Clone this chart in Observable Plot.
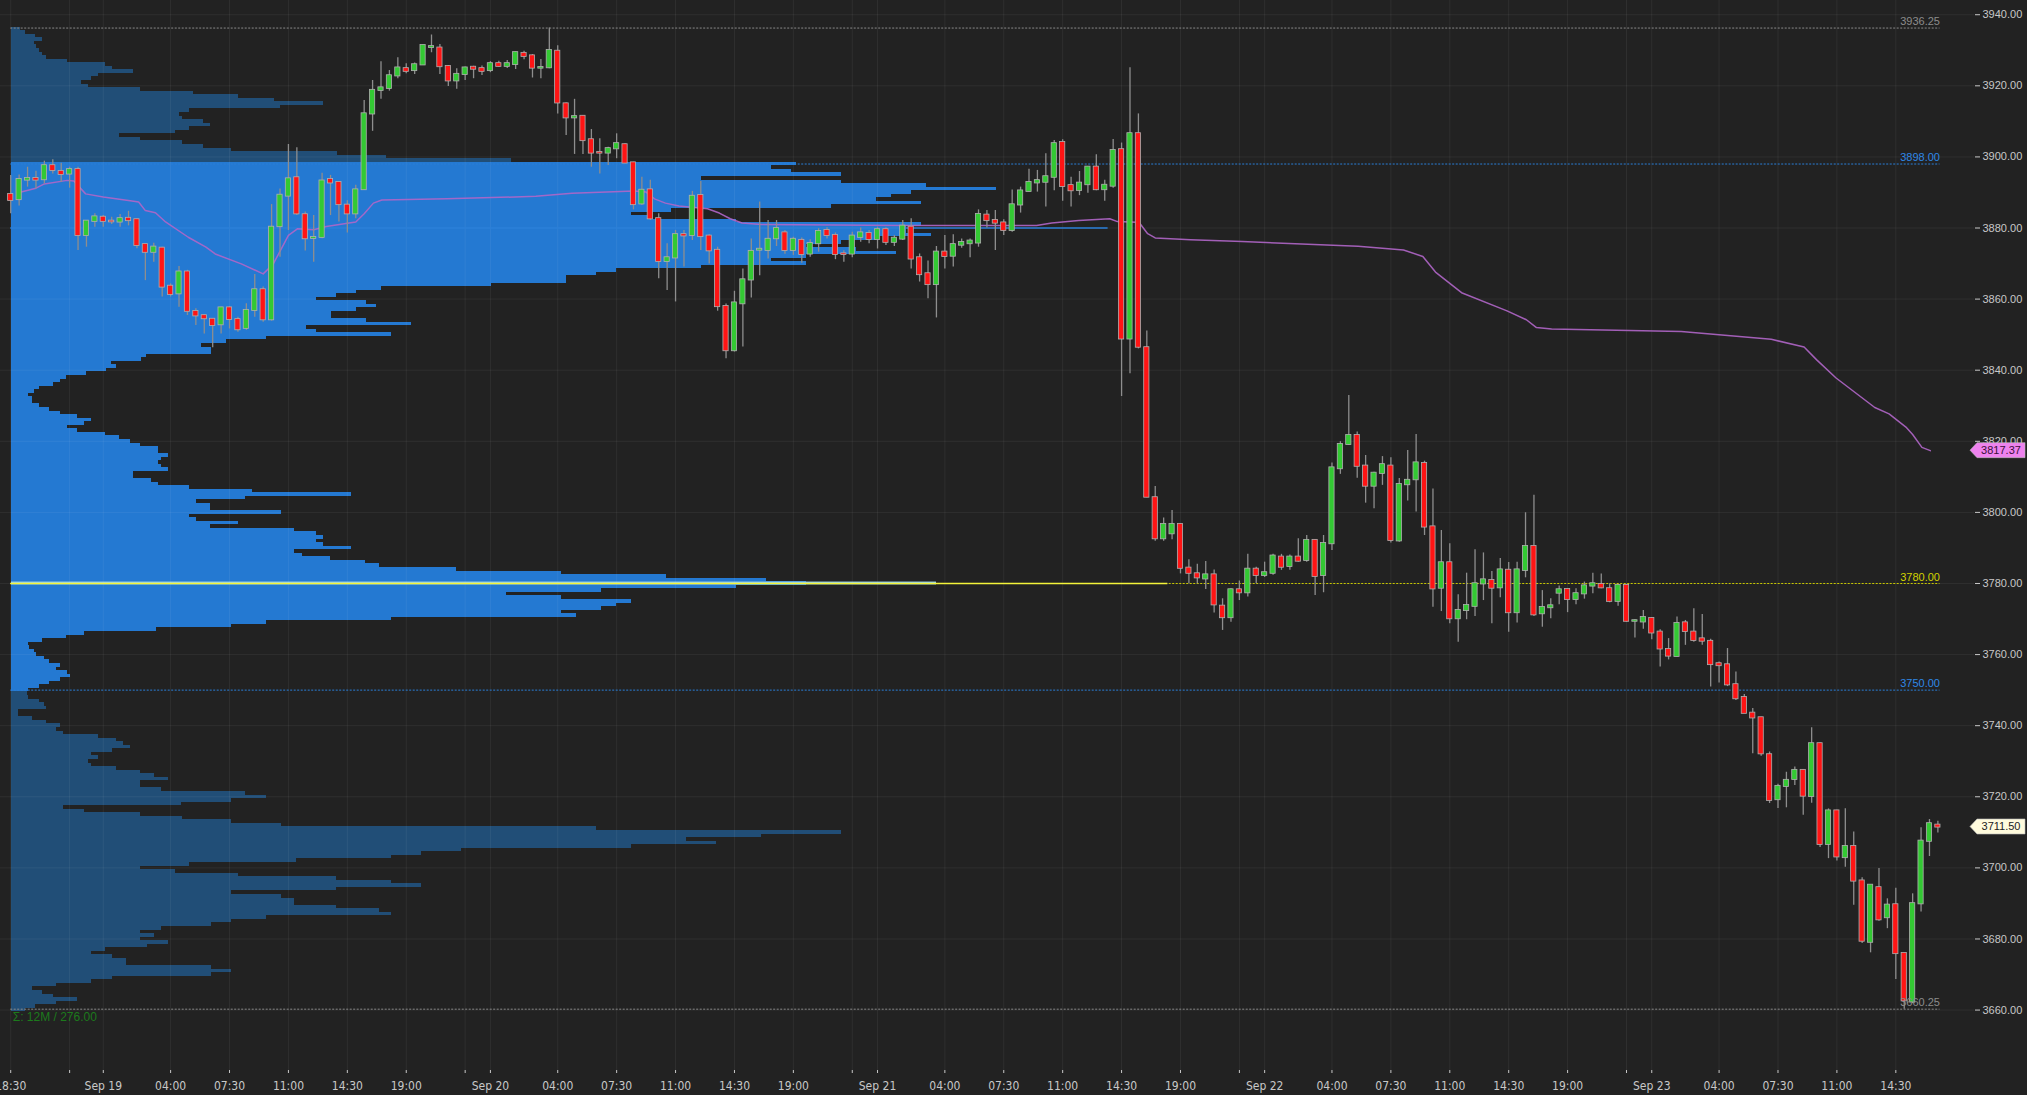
<!DOCTYPE html>
<html><head><meta charset="utf-8">
<script src="https://cdn.jsdelivr.net/npm/d3@7"></script>
<script src="https://cdn.jsdelivr.net/npm/@observablehq/plot@0.6"></script>
<style>
html,body{margin:0;padding:0;background:#222222;}
#chart{position:relative;width:2027px;height:1095px;overflow:hidden;}
#chart svg{position:absolute;left:0;top:0;}
</style></head><body><div id="chart"></div>
<script>
// ---------- DATA (30-minute bars, ES, Sep 18 18:00 -> Sep 23 17:00; bar number inside the week) ----------
const openP = [3889.4,3888.0,3893.5,3893.9,3893.6,3897.5,3895.9,3895.2,3896.4,3877.9,
3881.9,3883.0,3881.9,3881.7,3882.7,3882.3,3875.3,3873.2,3874.3,3863.6,
3861.5,3867.6,3856.5,3855.3,3854.3,3852.8,3857.5,3854.2,3851.8,3856.8,
3862.6,3854.2,3880.4,3889.0,3894.1,3883.7,3877.1,3877.4,3893.6,3892.8,
3886.4,3884.0,3890.8,3912.1,3918.7,3919.3,3922.8,3924.8,3924.3,3925.9,
3930.8,3930.6,3925.4,3921.4,3923.2,3925.2,3924.8,3924.3,3926.2,3925.5,
3926.0,3929.1,3928.4,3925.0,3925.1,3929.7,3914.9,3911.0,3911.4,3904.8,
3901.2,3901.1,3902.3,3903.4,3898.3,3886.8,3890.7,3882.6,3870.6,3871.6,
3878.1,3877.9,3889.1,3877.7,3873.7,3857.9,3845.5,3858.7,3865.4,3873.8,
3873.7,3877.0,3878.6,3873.7,3876.5,3872.7,3875.6,3879.3,3877.9,3872.7,
3872.7,3877.4,3878.4,3876.8,3879.5,3876.0,3876.9,3880.2,3871.6,3867.1,
3864.1,3873.2,3872.1,3875.2,3875.6,3875.8,3883.6,3882.1,3881.4,3879.3,
3886.5,3890.3,3892.7,3892.9,3894.3,3904.0,3891.9,3890.6,3892.2,3897.1,
3890.8,3891.8,3902.0,3848.8,3906.5,3846.3,3804.1,3792.6,3794.0,3796.6,
3784.3,3782.7,3781.3,3782.4,3773.6,3770.4,3778.2,3777.4,3784.0,3782.3,
3782.9,3787.4,3784.8,3787.4,3786.5,3792.1,3782.3,3791.2,3812.3,3819.1,
3821.6,3813.0,3807.4,3811.0,3813.0,3792.0,3807.8,3809.2,3813.7,3795.9,
3778.7,3785.8,3770.1,3772.4,3773.6,3779.9,3780.8,3778.8,3783.7,3771.8,
3783.7,3790.4,3771.5,3773.2,3777.3,3778.3,3775.5,3777.1,3779.3,3779.7,
3778.5,3775.0,3779.4,3769.4,3769.2,3770.1,3766.3,3761.4,3759.5,3768.9,
3766.3,3764.4,3763.7,3757.4,3757.1,3751.5,3747.9,3743.5,3742.2,3731.8,
3719.2,3722.9,3724.9,3727.4,3720.1,3734.9,3706.6,3716.0,3702.9,3706.0,
3696.3,3679.1,3694.4,3686.0,3689.6,3675.9,3662.3,3689.9,3707.5,3712.0];
const highP = [3894.8,3894.9,3897.1,3896.0,3898.8,3899.2,3898.2,3897.1,3897.1,3882.1,
3884.0,3883.5,3883.0,3883.8,3884.7,3882.5,3875.6,3875.7,3874.6,3864.3,
3869.2,3868.1,3857.3,3855.7,3854.5,3857.7,3857.9,3854.9,3858.7,3866.9,
3863.4,3886.6,3891.0,3903.5,3902.6,3884.5,3883.5,3895.4,3894.8,3892.9,
3887.7,3892.0,3915.9,3921.5,3926.8,3924.3,3927.9,3926.2,3926.4,3931.5,
3934.3,3931.6,3925.7,3924.8,3925.3,3925.5,3925.6,3926.8,3926.9,3927.1,
3929.5,3929.7,3928.8,3927.4,3936.25,3931.3,3915.2,3916.2,3911.6,3907.7,
3905.1,3902.7,3906.5,3903.7,3898.5,3894.3,3893.4,3884.0,3875.6,3879.3,
3879.3,3890.3,3893.1,3878.1,3874.6,3858.6,3862.2,3868.5,3876.9,3887.3,
3882.1,3882.1,3879.3,3877.4,3877.2,3876.7,3879.8,3880.1,3878.6,3873.6,
3878.8,3880.0,3879.3,3880.2,3880.1,3877.9,3882.1,3882.6,3872.7,3870.7,
3874.8,3877.9,3878.1,3876.9,3876.9,3885.1,3884.9,3884.9,3882.3,3890.7,
3891.5,3896.5,3896.2,3900.9,3904.6,3904.8,3894.3,3895.9,3897.1,3900.6,
3893.4,3904.9,3903.9,3925.1,3912.1,3851.0,3807.3,3798.4,3800.5,3796.8,
3786.7,3785.4,3786.2,3783.8,3775.7,3778.5,3780.7,3788.2,3784.6,3786.0,
3788.2,3788.2,3788.0,3792.6,3793.5,3792.3,3793.5,3813.9,3819.9,3832.9,
3822.6,3816.0,3811.3,3815.7,3815.4,3809.5,3817.4,3821.9,3814.4,3806.6,
3794.9,3791.2,3776.8,3782.9,3789.5,3788.6,3783.4,3787.0,3785.9,3786.0,
3799.9,3804.8,3778.0,3775.7,3779.3,3778.5,3778.5,3780.4,3782.9,3782.7,
3779.9,3779.6,3779.7,3769.8,3772.4,3770.4,3767.0,3764.5,3770.6,3769.6,
3772.9,3771.3,3764.3,3757.9,3761.7,3755.1,3748.8,3744.8,3742.4,3732.6,
3723.5,3726.9,3728.4,3727.6,3739.4,3735.1,3716.6,3716.2,3716.6,3710.1,
3697.2,3695.1,3699.8,3691.3,3694.3,3675.9,3692.7,3711.3,3713.6,3713.1];
const lowP = [3884.0,3886.2,3891.5,3891.0,3892.4,3895.2,3892.8,3891.2,3873.7,3874.6,
3880.2,3880.2,3881.0,3880.2,3880.6,3874.2,3865.2,3870.4,3860.6,3860.6,
3857.7,3855.4,3852.6,3850.2,3846.3,3850.2,3851.6,3850.7,3851.2,3854.9,
3853.5,3853.8,3871.8,3879.3,3883.5,3873.5,3870.4,3877.0,3883.5,3881.7,
3878.6,3882.6,3890.6,3907.2,3916.2,3918.5,3922.0,3923.4,3923.2,3925.7,
3929.3,3923.2,3919.8,3919.0,3921.5,3922.0,3922.9,3923.7,3925.2,3924.9,
3924.6,3927.3,3922.2,3922.0,3924.8,3912.1,3906.0,3900.7,3900.7,3897.1,
3895.2,3897.6,3899.5,3898.1,3885.1,3886.3,3882.1,3865.7,3862.4,3859.2,
3869.0,3876.5,3873.7,3869.9,3856.6,3843.2,3845.1,3846.5,3860.3,3866.6,
3871.3,3874.8,3872.6,3872.3,3870.1,3871.8,3873.2,3876.9,3871.1,3870.4,
3871.6,3876.0,3875.6,3874.1,3875.1,3874.8,3876.5,3868.5,3864.8,3860.1,
3854.7,3868.5,3869.0,3874.3,3871.6,3874.6,3880.0,3873.7,3877.9,3878.8,
3884.2,3890.1,3890.1,3885.9,3890.5,3887.5,3885.9,3889.1,3889.8,3890.5,
3887.5,3891.2,3832.6,3839.0,3846.0,3804.1,3791.9,3791.9,3792.3,3782.7,
3779.9,3779.9,3778.3,3771.7,3766.8,3769.1,3775.2,3776.2,3779.9,3781.7,
3782.3,3783.7,3783.7,3786.0,3786.0,3776.6,3777.4,3789.3,3810.7,3818.8,
3809.6,3802.6,3801.0,3807.6,3791.4,3791.6,3803.2,3800.1,3793.5,3773.3,
3772.1,3768.7,3763.5,3769.8,3770.7,3775.2,3768.7,3776.0,3766.3,3768.9,
3781.6,3770.7,3767.7,3770.1,3774.0,3771.8,3774.0,3775.6,3777.1,3778.5,
3774.6,3773.6,3769.1,3764.7,3767.1,3764.2,3756.5,3758.5,3759.3,3762.6,
3763.5,3762.6,3750.9,3752.0,3751.0,3747.1,3743.4,3732.1,3731.4,3718.1,
3716.7,3716.9,3723.2,3714.8,3718.2,3705.7,3702.6,3701.9,3700.2,3689.5,
3678.7,3676.1,3685.0,3682.9,3668.6,3660.25,3661.8,3687.6,3703.2,3709.8];
const closeP = [3887.75,3893.6,3893.9,3893.5,3897.5,3896.2,3895.1,3896.4,3877.9,3881.9,
3883.1,3881.9,3881.75,3882.6,3882.1,3875.1,3873.2,3874.6,3863.4,3861.3,
3867.6,3856.6,3855.3,3854.5,3852.6,3857.5,3854.3,3851.4,3856.8,3862.6,
3854.2,3880.2,3889.2,3893.8,3884.0,3877.0,3877.3,3893.2,3892.7,3886.6,
3884.0,3890.7,3912.1,3918.7,3919.4,3922.8,3925.0,3924.1,3925.9,3931.3,
3931.0,3925.4,3921.4,3923.2,3925.0,3924.7,3924.1,3926.2,3925.5,3926.2,
3929.3,3928.3,3925.0,3925.1,3929.9,3915.2,3911.0,3911.3,3904.6,3901.1,
3901.1,3902.3,3903.7,3898.3,3886.6,3890.6,3882.6,3870.6,3871.6,3878.1,
3877.8,3888.9,3877.6,3873.6,3857.9,3845.5,3858.9,3865.4,3873.4,3874.0,
3876.8,3879.8,3873.7,3876.8,3872.6,3875.6,3879.0,3877.9,3872.6,3872.6,
3877.7,3878.6,3876.8,3879.5,3876.0,3877.1,3880.5,3871.3,3866.9,3864.1,
3873.2,3872.0,3875.3,3875.9,3876.3,3883.8,3882.1,3881.4,3879.3,3886.5,
3890.4,3892.8,3893.3,3894.4,3903.7,3891.7,3890.5,3892.6,3897.1,3890.8,
3892.0,3901.8,3848.8,3906.5,3846.5,3804.3,3792.6,3796.6,3796.6,3784.3,
3782.9,3781.6,3782.4,3774.0,3770.4,3778.2,3777.4,3784.0,3782.3,3783.0,
3787.7,3784.6,3787.4,3786.3,3792.1,3782.0,3791.2,3812.5,3819.1,3821.6,
3813.0,3807.4,3811.0,3813.4,3792.1,3807.8,3809.0,3813.9,3795.9,3778.5,
3785.8,3770.1,3772.4,3773.8,3779.9,3781.0,3778.7,3783.8,3771.8,3783.8,
3790.4,3771.2,3773.2,3773.7,3778.2,3775.5,3777.1,3779.3,3779.9,3778.8,
3775.0,3779.4,3769.4,3769.5,3770.4,3766.1,3761.6,3759.6,3768.7,3766.5,
3764.0,3763.8,3757.2,3756.9,3751.5,3747.6,3743.5,3742.2,3732.1,3719.0,
3722.9,3724.6,3727.4,3720.2,3734.9,3706.6,3716.0,3703.1,3706.0,3696.3,
3679.4,3695.1,3685.4,3689.5,3675.9,3662.6,3689.9,3707.5,3712.4,3711.5];

// moving-average style line (bar position, value)
const avgBar = [2,4,5,7.7,8.5,9.9,12,15.2,16.2,17,18.2,19.4,22.1,24.2,25.3,28.4,31,32.2,34,35.1,37,38.5,42,43,44.1,45.1,52.8,63.4,67.7,75.1,76.5,77.5,78.8,80.4,83.8,85.2,86.5,87.9,90.2,107.5,122.9,124.7,127.9,131.6,132.5,134.8,135.2,136.1,137,141.2,147.3,161.1,166.5,168.8,170.3,173.4,178.8,181.1,182.3,184.1,199.5,210.2,214.1,215.6,217.9,222.5,224.2,226.2,227,228.1,229.1];
const avgValue = [3890.0,3891.2,3892.4,3893.4,3893.2,3889.6,3888.7,3887.7,3887.3,3884.9,3884.3,3881.7,3877.4,3874.6,3872.7,3869.9,3867.1,3869.9,3877.9,3879.8,3879.5,3880.4,3881.7,3884.0,3887.0,3887.9,3888.2,3888.9,3889.8,3890.4,3890.1,3888.2,3887.0,3886.2,3885.4,3884.2,3882.6,3881.4,3881.0,3880.7,3880.7,3881.4,3882.1,3882.6,3881.8,3881.6,3881.2,3878.4,3877.2,3876.7,3876.2,3874.9,3873.8,3872.0,3867.6,3861.8,3856.7,3854.2,3852.0,3851.6,3850.9,3848.7,3846.5,3842.9,3837.8,3829.5,3827.7,3824.0,3821.9,3818.3,3817.37];
const avgLast = 3817.37;

// volume profile: volume (K contracts) per 1-point level, from 3936 down to 3660
const profileHigh = 3936, profileLow = 3660;
const profileVolume = [
1.7,2.7,4.8,6.2,4.5,5.0,5.5,6.2,6.9,11.1,
18.8,20.2,24.4,17.4,16.0,13.9,15.3,25.8,36.3,45.4,
52.5,62.3,53.8,35.6,33.5,34.2,38.4,39.8,35.6,32.8,
21.6,25.8,34.2,38.4,44.0,65.1,75,100,157,152,
156,166,138,166,183,197,180,176,173,182,
164,132,124,128,145,182,179,179,184,173,
166,159,169,177,159,152,159,138,121,117,
111,111,96,74,69,65,61,71,73,69,
64,64,71,80,59,61,76,51,43,38,
40,40,27,26,20,21,19,15,11,9.7,
8.3,5.5,4.5,3.4,4.1,4.1,5.5,7.6,9.7,13.2,
16.0,14.6,11.1,13.2,18.8,21.6,23.7,25.8,29.3,29.3,
31.4,30.0,29.3,30.0,31.4,24.4,24.4,27.9,29.3,35.6,
48.2,67.9,46.8,37.0,39.8,39.8,53.9,35.6,37.0,45.4,
39.8,56.6,60.9,62.3,60.9,62.3,67.9,56.6,58.1,63.7,
70.7,73.5,88.9,110,131,151,159,145,118,99,
110,124,121,118,110,113,76,51,44,29,
14.6,11,6.2,3.4,3.6,4.5,5.0,6.5,7.6,9.7,
9.0,11.1,11.8,9.7,7.6,5.5,3.4,3.1,3.4,5.5,
6.5,6.9,1.3,1.3,4.1,6.9,9.7,9.0,10.4,17.4,
21,22.3,23.7,20.2,16,17.4,15.3,16,21,25.8,
28.6,31.4,25.8,25.8,30,46.8,51,44,34,10.4,
14.6,25.8,34.2,44,53.9,117,166,150,135,141,
124,90,82,76,57,35.6,25.8,32.8,45.4,65,
76,82,65,44,53.9,56.6,56.6,65,73.5,76,
51,44,40,30,25.8,28.6,25.8,31.4,27.2,18.8,
16,20.2,23,23,40,44,40,20.2,16,9,
4.1,6.2,8.3,13.2,9,4.8,2.7];
const valueAreaHigh = 3898.00, valueAreaLow = 3750.00;
const pocPrice = 3780.00, pocVolume = 185;      // point of control, per-point rate
const pocNakedUntilBar = 138.5;                   // solid POC ray ends here
const priorPocPrice = 3880.00, priorPocUntilBar = 131.4;
const sigmaLabel = "\u03a3: 12M / 276.00";

// level lines drawn across the chart
const levelPrices = [3936.25, 3898.00, 3780.00, 3750.00, 3660.25];
const levelLine   = ["#8a8a8a", "#2a7fd8", "#caca00", "#2a7fd8", "#8a8a8a"];
const levelText   = ["#8c8c8c", "#2f88e6", "#d2d200", "#2f88e6", "#8c8c8c"];

// axis ticks
const yTicks = d3.range(3660, 3941, 20);
const xTickBars = [1,8,12,20,27,34,41,48,55,58,66,73,80,87,94,101,104,112,119,126,133,140,147,150,158,165,172,179,186,193,196,204,211,218,225];
const xTickLabels = ["18:30","","Sep 19","04:00","07:30","11:00","14:30","19:00","","Sep 20","04:00","07:30","11:00","14:30","19:00","","Sep 21","04:00","07:30","11:00","14:30","19:00","","Sep 22","04:00","07:30","11:00","14:30","19:00","","Sep 23","04:00","07:30","11:00","14:30"];

// ---------- BUILD ----------
const W = 2027, H = 1095;
const M = {marginTop: 0, marginRight: 53, marginBottom: 25, marginLeft: 0};
const yDomain = [3643.0, 3944.0];
const xDomain = [-0.214, 234.35];
const GREEN = "#33c933", RED = "#ff1414", DOJI = "#9a9a9a";
const VA_FILL = "#2479d2", OUT_FILL = "#214e77";
const FONT = "'Liberation Sans', Arial, sans-serif";
const NARROW = "'Liberation Sans Narrow', 'DejaVu Sans Condensed', 'Liberation Sans', sans-serif";

const bars = openP.map((o, k) => ({i: k + 1, o, h: highP[k], l: lowP[k], c: closeP[k]}));
const firstBar = bars[0].i, lastBar = bars[bars.length - 1].i;
const avgLine = avgBar.map((b, k) => ({b, v: avgValue[k]}));
const profileRows = profileVolume.map((v, k) => {
  const price = profileHigh - k;
  return {price, v, inVA: price >= valueAreaLow && price <= valueAreaHigh};
});
const levels = levelPrices.map((p, k) => ({price: p, line: levelLine[k], text: levelText[k]}));
const tickLabel = new Map(xTickBars.map((b, k) => [b, xTickLabels[k]]));

// layer 1: volume profile
const profile = Plot.plot({
  width: W, height: H, marginTop: 0, marginBottom: 25, marginRight: 53, marginLeft: 11,
  x: {domain: [0, (W - 53 - 11) / 5], axis: null},
  y: {domain: yDomain, axis: null},
  color: {type: "identity"},
  style: {background: "#222222"},
  marks: [
    Plot.rect(profileRows, {x1: 0, x2: "v", y1: d => d.price - 0.5, y2: d => d.price + 0.5,
      fill: d => d.inVA ? VA_FILL : OUT_FILL, shapeRendering: "crispEdges"}),
    Plot.rect([pocPrice], {x1: 0, x2: pocVolume, y1: d => d - 0.4, y2: d => d + 0.4, fill: "#9ad6f2"})
  ]
});

function priceFlag(value, fill, textFill) {
  return (index, scales, values, dimensions) => {
    const y = scales.y(value);
    const xr = dimensions.width - dimensions.marginRight;
    const g = d3.create("svg:g");
    g.append("path")
      .attr("d", `M${xr - 4},${y} L${xr + 3},${y - 7.5} L${xr + 51},${y - 7.5} L${xr + 51},${y + 7.5} L${xr + 3},${y + 7.5} Z`)
      .attr("fill", fill).attr("stroke", "#bbbbbb").attr("stroke-width", 0.6);
    g.append("text").attr("x", xr + 27).attr("y", y).attr("dy", "0.35em")
      .attr("text-anchor", "middle").attr("font-size", 11).attr("font-family", FONT)
      .attr("fill", textFill).text(value.toFixed(2));
    return g.node();
  };
}

// layer 2: price chart
const main = Plot.plot({
  width: W, height: H, ...M,
  x: {domain: xDomain},
  y: {domain: yDomain},
  color: {type: "identity"},
  style: {background: "transparent", color: "#c8c8c8", fontFamily: FONT},
  marks: [
    Plot.ruleX(xTickBars, {stroke: "#ffffff", strokeOpacity: 0.06}),
    Plot.ruleY(yTicks, {stroke: "#ffffff", strokeOpacity: 0.06}),
    Plot.ruleY(levels, {y: "price", x1: firstBar, x2: lastBar + 0.25, stroke: "line", strokeWidth: 1, strokeDasharray: "2,1.5"}),
    Plot.ruleY([pocPrice], {x1: firstBar, x2: pocNakedUntilBar, stroke: "#f4f43a", strokeWidth: 1.6}),
    Plot.ruleY([priorPocPrice], {x1: firstBar, x2: priorPocUntilBar, stroke: "#2a7fd8", strokeWidth: 1.6}),
    Plot.line(avgLine, {x: "b", y: "v", stroke: "#b066c8", strokeWidth: 1.5, strokeOpacity: 0.9}),
    Plot.ruleX(bars, {x: "i", y1: "l", y2: "h", stroke: "#8e8e8e", strokeWidth: 1.3}),
    Plot.rect(bars, {x1: d => d.i - 0.31, x2: d => d.i + 0.31, y1: "o", y2: "c",
      fill: d => d.c > d.o ? GREEN : d.c < d.o ? RED : DOJI,
      stroke: "#b0b0b0", strokeWidth: 0.8, insetTop: -0.6, insetBottom: -0.6}),
    Plot.text(levels, {x: lastBar + 0.25, y: "price", text: d => d.price.toFixed(2), fill: "text",
      textAnchor: "end", dy: -6.5, fontSize: 11}),
    Plot.text([sigmaLabel], {x: firstBar, y: levelPrices[4], text: d => d, dx: 2, dy: 8,
      textAnchor: "start", fill: "#1c7a1c", fontSize: 12}),
    Plot.axisY(yTicks, {anchor: "right", tickFormat: d => d.toFixed(2), tickSize: 5, tickPadding: 3,
      fontSize: 11, color: "#c8c8c8", line: true, label: null}),
    Plot.axisX(xTickBars, {anchor: "bottom", tickFormat: d => tickLabel.get(d), tickSize: 3, tickPadding: 8,
      fontSize: 12, fontFamily: NARROW, color: "#c8c8c8", line: true, label: null}),
    priceFlag(avgLast, "#ee82ee", "#3a103a"),
    priceFlag(closeP[closeP.length - 1], "#fffbdd", "#222222")
  ]
});

const el = document.getElementById("chart");
el.appendChild(profile);
el.appendChild(main);
</script></body></html>
